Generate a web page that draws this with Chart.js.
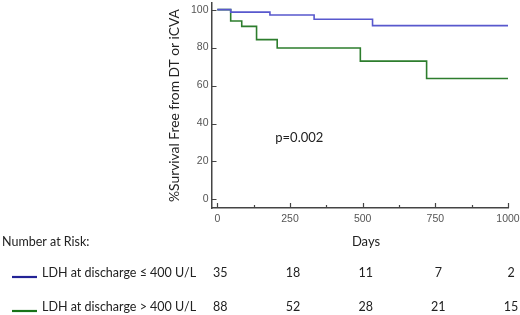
<!DOCTYPE html>
<html>
<head>
<meta charset="utf-8">
<script src="https://cdn.jsdelivr.net/npm/chart.js@4.4.1/dist/chart.umd.min.js"></script>
<style>
  html, body { margin: 0; padding: 0; background: #fff; }
  #wrap { width: 520px; height: 315px; position: relative; }
</style>
</head>
<body>
<div id="wrap"><canvas id="kmChart"></canvas></div>
<script>
// Kaplan-Meier steps: day of event, survival (%) after it
var lowDays = [0, 46, 181, 333, 534, 1000];
var lowSurv = [100, 98.7, 97.2, 94.9, 91.6, 91.6];
var highDays = [0, 46, 84, 135, 206, 492, 720, 1000];
var highSurv = [100, 94, 91.2, 84.2, 79.8, 72.9, 63.7, 63.7];

var xTicks = [0, 250, 500, 750, 1000];
var xMinorTicks = [125, 375, 625, 875];
var yTicks = [0, 20, 40, 60, 80, 100];

// number at risk table
var riskDays = [0, 250, 500, 750, 1000];
var riskLow = [35, 18, 11, 7, 2];
var riskHigh = [88, 52, 28, 21, 15];
var riskLabels = ["LDH at discharge \u2264 400 U/L", "LDH at discharge > 400 U/L"];

var blueLine = "rgb(88,88,205)";
var greenLine = "rgb(45,125,45)";
var textFont = "Lato, 'Open Sans', sans-serif";
var tickFont = "'Liberation Sans Narrow', 'Liberation Sans', sans-serif";

function toPts(xs, ys) {
    return xs.map((x, i) => ({ x: x, y: ys[i] }));
}

// inward tick marks + risk table + p-value
const extrasPlugin = {
    id: "extras",
    afterDraw(chart) {
        const ctx = chart.ctx;
        const xs = chart.scales.x, ys = chart.scales.y;
        const area = chart.chartArea;
        ctx.save();
        ctx.strokeStyle = "#444";
        ctx.lineWidth = 1.2;
        ctx.beginPath();
        xTicks.forEach(v => {
            const px = Math.round(xs.getPixelForValue(v)) + 0.5;
            ctx.moveTo(px, area.bottom); ctx.lineTo(px, area.bottom - 5);
        });
        xMinorTicks.forEach(v => {
            const px = Math.round(xs.getPixelForValue(v)) + 0.5;
            ctx.moveTo(px, area.bottom); ctx.lineTo(px, area.bottom - 3);
        });
        yTicks.forEach(v => {
            const py = Math.round(ys.getPixelForValue(v)) + 0.5;
            ctx.moveTo(area.left, py); ctx.lineTo(area.left + 5, py);
        });
        ctx.stroke();

        ctx.fillStyle = "#222";
        ctx.font = "13px " + textFont;
        ctx.textBaseline = "middle";
        ctx.textAlign = "center";
        ctx.fillText("p=0.002", xs.getPixelForValue(282), 138);
        ctx.fillText("Days", 366, 242);

        ctx.font = "12.5px " + textFont;
        ctx.textAlign = "left";
        ctx.fillText("Number at Risk:", 2, 242);

        const rows = [
            { y: 273, label: riskLabels[0], vals: riskLow, col: "rgb(35,35,150)" },
            { y: 307, label: riskLabels[1], vals: riskHigh, col: "rgb(25,115,25)" }
        ];
        rows.forEach(r => {
            ctx.strokeStyle = r.col;
            ctx.lineWidth = 2.2;
            ctx.beginPath();
            ctx.moveTo(12, r.y + 4); ctx.lineTo(37, r.y + 4);
            ctx.stroke();
            ctx.textAlign = "left";
            ctx.fillText(r.label, 42, r.y);
            ctx.textAlign = "center";
            r.vals.forEach((v, i) => {
                ctx.fillText(String(v), xs.getPixelForValue(riskDays[i]) + 3, r.y);
            });
        });
        ctx.restore();
    }
};

const kmData = {
    datasets: [
        {
            label: riskLabels[0],
            data: toPts(lowDays, lowSurv),
            borderColor: blueLine,
            borderWidth: 1.6,
            stepped: true,
            pointRadius: 0,
            fill: false
        },
        {
            label: riskLabels[1],
            data: toPts(highDays, highSurv),
            borderColor: greenLine,
            borderWidth: 1.6,
            stepped: true,
            pointRadius: 0,
            fill: false
        }
    ]
};

const kmConfig = {
    type: "line",
    data: kmData,
    plugins: [extrasPlugin],
    options: {
        responsive: true,
        maintainAspectRatio: false,
        animation: false,
        layout: { padding: { top: 3, right: 12, left: 0, bottom: 0 } },
        plugins: { legend: { display: false }, tooltip: { enabled: false } },
        scales: {
            x: {
                type: "linear",
                min: -20,
                max: 1000,
                grid: { display: false, drawTicks: false },
                border: { display: true, color: "#444", width: 1.5 },
                afterBuildTicks: s => { s.ticks = xTicks.map(v => ({ value: v })); },
                afterFit: s => { s.height = 107; s.paddingLeft = 0; s.paddingRight = 0; },
                ticks: {
                    color: "#555",
                    padding: 5,
                    maxRotation: 0,
                    callback: v => String(v),
                    font: { family: tickFont, size: 10.5 }
                }
            },
            y: {
                min: -4.5,
                max: 103.5,
                grid: { display: false, drawTicks: false },
                border: { display: true, color: "#444", width: 1.5 },
                afterBuildTicks: s => { s.ticks = yTicks.map(v => ({ value: v })); },
                afterFit: s => { s.width = 211.5; s.paddingTop = 0; s.paddingBottom = 0; },
                ticks: {
                    color: "#555",
                    padding: 3,
                    callback: v => String(v),
                    font: { family: tickFont, size: 10.5 }
                },
                title: {
                    display: true,
                    text: "%Survival Free from DT or iCVA",
                    color: "#222",
                    padding: { top: 166, bottom: 0 },
                    font: { family: textFont, size: 13.8 }
                }
            }
        }
    }
};

const kmChart = new Chart(document.getElementById("kmChart"), kmConfig);
</script>
</body>
</html>
